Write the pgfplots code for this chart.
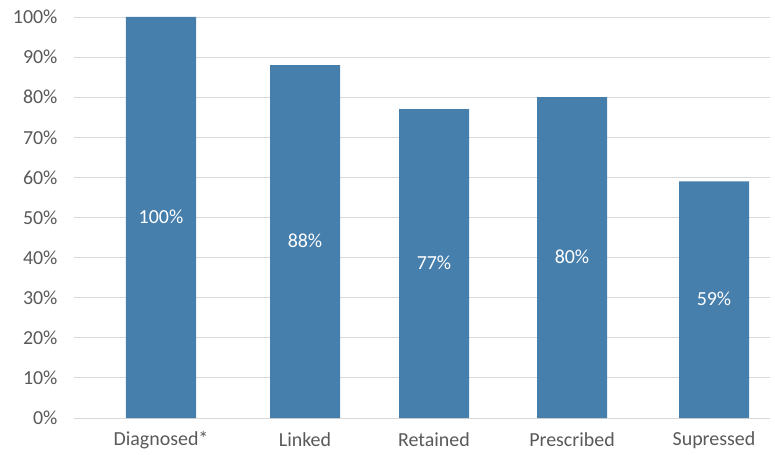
\documentclass[border=0pt]{standalone}
\usepackage{pgfplots}
\pgfplotsset{compat=1.18}
\usepackage{fontspec}
\setmainfont{Carlito}
\definecolor{barblue}{HTML}{467EAC}
\definecolor{txtgray}{HTML}{595959}
\definecolor{gridgray}{HTML}{D9D9D9}
\begin{document}
\begin{tikzpicture}
\begin{axis}[
  scale only axis,
  width=696bp, height=401bp,
  xmin=74, xmax=770,
  ymin=0, ymax=100,
  axis x line=bottom, axis y line=left,
  x axis line style={gridgray, line width=0.9pt, -},
  y axis line style={draw=none},
  ytick={0,10,...,100},
  yticklabel={\pgfmathprintnumber{\tick}\%},
  /pgf/number format/assume math mode=true,
  ymajorgrids,
  grid style={gridgray, line width=0.9pt},
  major tick length=0pt,
  xtick={161,305,434,572,714},
  xticklabels={Diagnosed*,Linked,Retained,Prescribed,Supressed},
  tick label style={text=txtgray, font=\fontsize{20}{24}\selectfont},
  yticklabel style={anchor=east, xshift=-13bp},
  xticklabel style={anchor=center, yshift=-22bp},
  clip=false,
]
\addplot[ybar, bar width=70, fill=barblue, draw=none,
  visualization depends on={rawy \as \ry},
  nodes near coords={\pgfmathprintnumber{\pgfplotspointmeta}\%},
  nodes near coords style={anchor=center, text=white, font=\fontsize{20}{24}\selectfont, /pgf/number format/assume math mode=true, yshift={-2.005*\ry}},
] coordinates {(161,100) (305,88) (434,77) (572,80) (714,59)};
\end{axis}
\useasboundingbox (-74bp,-37bp) rectangle (701bp,418bp);
\end{tikzpicture}
\end{document}
